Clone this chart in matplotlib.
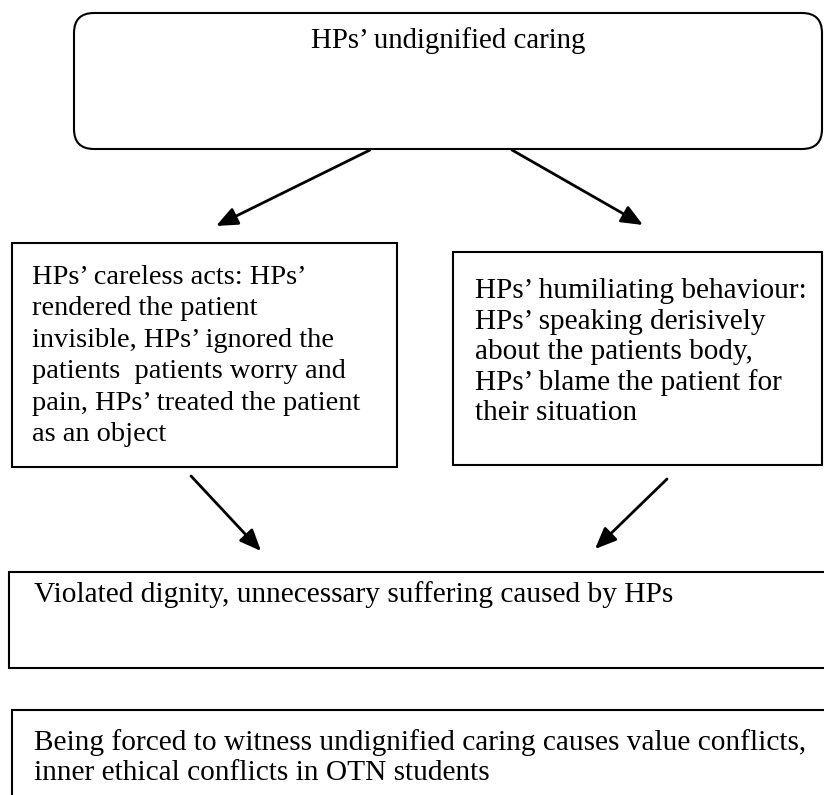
import matplotlib
matplotlib.use("Agg")
import matplotlib.pyplot as plt
from matplotlib.patches import FancyBboxPatch, Rectangle

# ---- content ----
top_lines = ["HPs\u2019 undignified caring"]
left_lines = ["HPs\u2019 careless acts: HPs\u2019",
              "rendered the patient",
              "invisible, HPs\u2019 ignored the",
              "patients  patients worry and",
              "pain, HPs\u2019 treated the patient",
              "as an object"]
right_lines = ["HPs\u2019 humiliating behaviour:",
               "HPs\u2019 speaking derisively",
               "about the patients body,",
               "HPs\u2019 blame the patient for",
               "their situation"]
mid_lines = ["Violated dignity, unnecessary suffering caused by HPs"]
bottom_lines = ["Being forced to witness undignified caring causes value conflicts,",
                "inner ethical conflicts in OTN students"]

# ---- layout (pixel coordinates, y downwards) ----
W, H = 824, 795
fig = plt.figure(figsize=(W / 100, H / 100), dpi=100)
ax = fig.add_axes([0, 0, 1, 1])
ax.set_xlim(0, W)
ax.set_ylim(H, 0)
ax.axis("off")

FONT = "Liberation Serif"
LW = 1.5

# boxes: (x0, y0, x1, y1)
top_box = (74, 13, 822, 149)
left_box = (12, 243, 397, 467)
right_box = (453, 252, 822, 465)
mid_box = (9, 572, 826, 668)
bottom_box = (12, 710, 826, 820)

x0, y0, x1, y1 = top_box
ax.add_patch(FancyBboxPatch((x0, y0), x1 - x0, y1 - y0,
                            boxstyle="round,pad=0,rounding_size=20",
                            fc="white", ec="black", lw=LW))
for b in (left_box, right_box, mid_box, bottom_box):
    x0, y0, x1, y1 = b
    ax.add_patch(Rectangle((x0, y0), x1 - x0, y1 - y0, fc="white", ec="black",
                           lw=LW, clip_on=True))


def put_lines(lines, x, y_first, step, fs, ha="left"):
    for i, s in enumerate(lines):
        ax.text(x, y_first + i * step, s, fontsize=fs, family=FONT,
                ha=ha, va="baseline", color="black")


put_lines(top_lines, 448, 48, 30, 20.8, ha="center")
put_lines(left_lines, 32, 284, 31.4, 20.4)
put_lines(right_lines, 475, 298, 30.6, 21.1)
put_lines(mid_lines, 34, 602, 30, 21.2)
put_lines(bottom_lines, 34, 750, 29.5, 21.2)

# arrows: (start, end)
arrows = [((370, 150), (216, 226)),
          ((512, 150), (643, 225)),
          ((191, 476), (261, 551)),
          ((667, 479), (595, 549))]
for (sx, sy), (ex, ey) in arrows:
    ax.annotate("", xy=(ex, ey), xytext=(sx, sy),
                arrowprops=dict(arrowstyle="-|>,head_length=1.3,head_width=0.55",
                                lw=2.0, color="black", shrinkA=0, shrinkB=0))

fig.savefig("out.png", dpi=100, facecolor="white")
